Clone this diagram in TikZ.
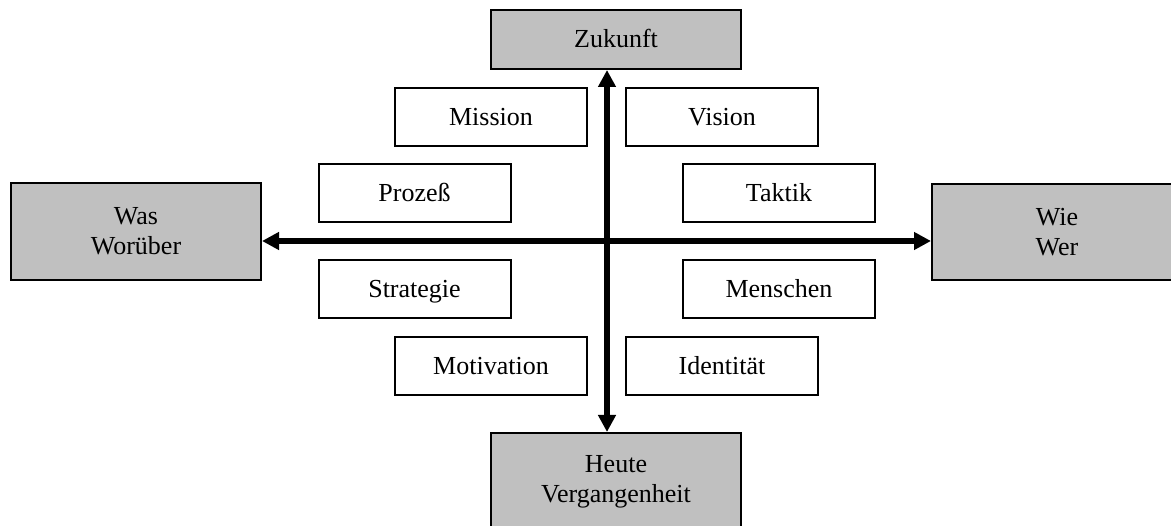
\documentclass[tikz,border=0pt]{standalone}
\usepackage{fontspec}
\setmainfont{Liberation Serif}
\usetikzlibrary{arrows.meta}
\definecolor{boxgray}{HTML}{C0C0C0}
\tikzset{
  box/.style={draw=black, line width=2pt, fill=white, inner sep=0pt, align=center,
    font=\fontsize{26}{30}\selectfont},
  oneline/.style={text height=19pt, text depth=2pt},
  small/.style={box, oneline, minimum width=192pt, minimum height=58pt},
  pole/.style={box, fill=boxgray, minimum width=250pt},
  axis/.style={line width=6pt, {Triangle[length=17pt,width=17pt]}-{Triangle[length=17pt,width=17pt]}},
}
\begin{document}
\begin{tikzpicture}[x=1pt,y=-1pt]
\useasboundingbox (0,0) rectangle (1171,526);
\clip (0,0) rectangle (1171,526);
\fill[white] (0,0) rectangle (1171,526);
% poles
\node[pole, oneline, minimum height=59pt] (zuk) at (616,39.5) {Zukunft};
\node[pole, minimum height=97pt] (was) at (136,231.5) {Was\\Worüber};
\node[pole, minimum height=96pt] (wie) at (1057,232) {Wie\\Wer};
\node[pole, minimum height=97pt] (heu) at (616,481.5) {Heute\\Vergangenheit};
% inner boxes
\node[small] (mis) at (491,117) {Mission};
\node[small] (vis) at (722,117) {Vision};
\node[small] (pro) at (414.5,193) {Prozeß};
\node[small] (tak) at (779,193) {Taktik};
\node[small] (str) at (414.5,289) {Strategie};
\node[small] (men) at (779,289) {Menschen};
\node[small] (mot) at (491,366) {Motivation};
\node[small] (ide) at (722,366) {Identität};
% axes
\coordinate (c) at (607,241);
\draw[axis] (zuk.south -| c) -- (heu.north -| c);
\draw[axis] (was.east |- c) -- (wie.west |- c);
\end{tikzpicture}
\end{document}
